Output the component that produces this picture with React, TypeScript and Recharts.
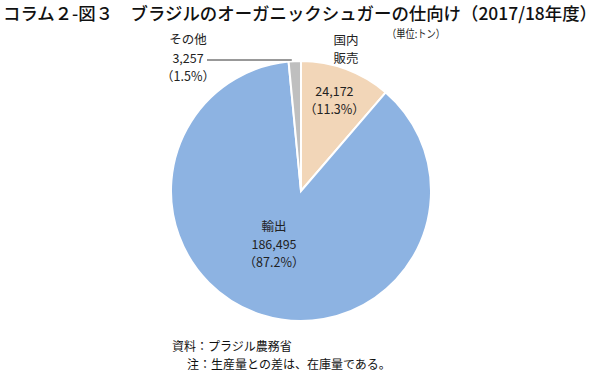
import { PieChart, Pie, Cell } from 'recharts';

const FONT = '"Noto Sans CJK JP", "Noto Sans", sans-serif';

const names = ['国内販売', '輸出', 'その他'];
const values = [24172, 186495, 3257];
const colors = ['#F2D6B8', '#8DB3E2', '#BFBFBF'];

const total = values.reduce((a, b) => a + b, 0);
const data = names.map((name, i) => ({ name, value: values[i] }));

const RAD = Math.PI / 180;

const renderLabel = (props: any) => {
  const { cx, cy, midAngle, outerRadius, index, value } = props;
  const num = value.toLocaleString('en-US');
  const pct = `（${((value / total) * 100).toFixed(1)}%）`;
  const txt = { fontFamily: FONT, fontSize: 12.5, fill: '#222', textAnchor: 'middle' as const };
  const topY = cy - outerRadius;

  if (index === 0) {
    const r = outerRadius * 0.74;
    const x = cx + r * Math.cos(-midAngle * RAD);
    const y = cy + r * Math.sin(-midAngle * RAD);
    return (
      <g>
        <text {...txt} x={x} y={y - 5}>{num}</text>
        <text {...txt} x={x} y={y + 13}>{pct}</text>
        <text {...txt} x={cx + 45} y={topY - 16}>国内</text>
        <text {...txt} x={cx + 45} y={topY + 2}>販売</text>
      </g>
    );
  }
  if (index === 1) {
    const x = cx - 27;
    const y = cy + 58;
    return (
      <g>
        <text {...txt} x={x} y={y - 18}>{names[index]}</text>
        <text {...txt} x={x} y={y}>{num}</text>
        <text {...txt} x={x} y={y + 18}>{pct}</text>
      </g>
    );
  }
  const ex = cx + outerRadius * Math.cos(-midAngle * RAD) - 3;
  return (
    <g>
      <line x1={cx - 94} y1={topY - 1} x2={ex} y2={topY - 1} stroke="#333" strokeWidth={1} />
      <text {...txt} x={cx - 113} y={topY - 17}>{names[index]}</text>
      <text {...txt} x={cx - 113} y={topY + 2}>{num}</text>
      <text {...txt} x={cx - 113} y={topY + 20}>{pct}</text>
    </g>
  );
};

export default function App() {
  return (
    <div style={{ position: 'absolute', left: 0, top: 0, width: 599, height: 372, background: '#fff' }}>
      <svg width={599} height={372} style={{ position: 'absolute', left: 0, top: 0 }}>
        <text x={3} y={20} fontFamily={FONT} fontSize={17.5} fontWeight={500} fill="#111" textLength={594} lengthAdjust="spacingAndGlyphs">
          コラム２-図３　ブラジルのオーガニックシュガーの仕向け（2017/18年度）
        </text>
        <text x={387} y={38} fontFamily={FONT} fontSize={11} fill="#222" textLength={58} lengthAdjust="spacingAndGlyphs">
          （単位:トン）
        </text>
        <text x={172} y={351} fontFamily={FONT} fontSize={12} fill="#111">資料：プラジル農務省</text>
        <text x={187} y={369} fontFamily={FONT} fontSize={12} fill="#111">注：生産量との差は、在庫量である。</text>
      </svg>
      <div style={{ position: 'absolute', left: 0, top: 0 }}>
        <PieChart width={599} height={372} margin={{ top: 0, right: 0, bottom: 0, left: 0 }}>
          <Pie
            data={data}
            dataKey="value"
            nameKey="name"
            cx={301}
            cy={191}
            outerRadius={130}
            startAngle={90}
            endAngle={-270}
            stroke="#fff"
            strokeWidth={2}
            label={renderLabel}
            labelLine={false}
            isAnimationActive={false}
          >
            {data.map((d, i) => (
              <Cell key={d.name} fill={colors[i]} />
            ))}
          </Pie>
        </PieChart>
      </div>
    </div>
  );
}
